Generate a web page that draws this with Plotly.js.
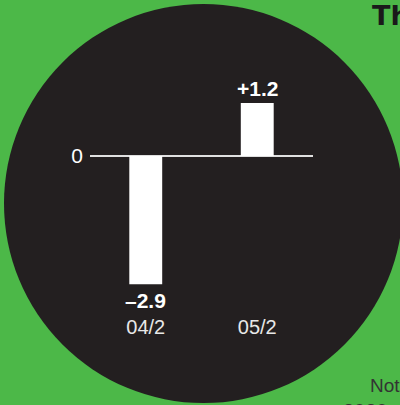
<!DOCTYPE html>
<html>
<head>
<meta charset="utf-8">
<script src="https://cdn.plot.ly/plotly-3.0.1.min.js"></script>
<style>html,body{margin:0;padding:0;background:#4cb848;}#chart{width:400px;height:405px;}</style>
</head>
<body>
<div id="chart"></div>
<script>
var categories = ['04/2', '05/2'];
var values = [-2.9, 1.2];
var valueLabels = ['–2.9', '+1.2'];
var yTickVals = [0];
var yTickText = ['0'];
var titleText = 'Th';
var noteText = 'Not';
var sourceText = '2020';

var W = 400, H = 405;
var FONT = 'Liberation Sans, Arial, sans-serif';
function px(x) { return x / W; }
function py(y) { return (H - y) / H; }

var annotations = categories.map(function (c, i) {
  var v = values[i];
  return {
    x: c, y: v, xref: 'x', yref: 'y',
    text: '<b>' + valueLabels[i] + '</b>',
    showarrow: false,
    xanchor: 'center',
    yanchor: v >= 0 ? 'bottom' : 'top',
    yshift: v >= 0 ? 1 : -3,
    font: {family: FONT, size: 21, color: '#ffffff'}
  };
});
annotations.push({
  x: px(370), y: py(15), xref: 'paper', yref: 'paper',
  text: '<b>' + titleText + '</b>', showarrow: false,
  xanchor: 'left', yanchor: 'middle',
  font: {family: 'DejaVu Sans, Liberation Sans, sans-serif', size: 27, color: '#1a1a1a'}
});
annotations.push({
  x: px(368), y: py(385), xref: 'paper', yref: 'paper',
  text: noteText, showarrow: false,
  xanchor: 'left', yanchor: 'middle',
  font: {family: FONT, size: 19, color: '#333333'}
});
annotations.push({
  x: px(341), y: py(411), xref: 'paper', yref: 'paper',
  text: sourceText, showarrow: false,
  xanchor: 'left', yanchor: 'middle',
  font: {family: FONT, size: 20, color: '#333333'}
});

var trace = {
  type: 'bar',
  x: categories,
  y: values,
  marker: {color: '#ffffff', line: {width: 0}},
  hoverinfo: 'skip'
};

var zeroPx = 156, unitPx = 44.2, topPx = 60, botPx = 300;
var layout = {
  width: W, height: H,
  margin: {l: 0, r: 0, t: 0, b: 0, pad: 0},
  paper_bgcolor: '#4cb848',
  plot_bgcolor: 'rgba(0,0,0,0)',
  showlegend: false,
  bargap: 0.705,
  font: {family: FONT},
  xaxis: {
    domain: [px(90), px(313)],
    type: 'category',
    range: [-0.5, 1.5],
    showgrid: false, zeroline: false, showline: false,
    ticks: '', ticklabelstandoff: 13,
    tickfont: {family: FONT, size: 20, color: '#e8e8e8'},
    fixedrange: true
  },
  yaxis: {
    domain: [py(botPx), py(topPx)],
    range: [-(botPx - zeroPx) / unitPx, (zeroPx - topPx) / unitPx],
    showgrid: false, showline: false,
    zeroline: true, zerolinecolor: '#e0e0e0', zerolinewidth: 1.5,
    tickmode: 'array', tickvals: yTickVals, ticktext: yTickText,
    ticks: '', ticklabelstandoff: 6,
    tickfont: {family: FONT, size: 21, color: '#ffffff'},
    fixedrange: true
  },
  shapes: [{
    type: 'circle', xref: 'paper', yref: 'paper', layer: 'below',
    x0: px(4), x1: px(403), y0: py(403), y1: py(4),
    fillcolor: '#231f20', line: {width: 0}
  }],
  annotations: annotations
};

Plotly.newPlot('chart', [trace], layout, {displayModeBar: false, staticPlot: true});
</script>
</body>
</html>
